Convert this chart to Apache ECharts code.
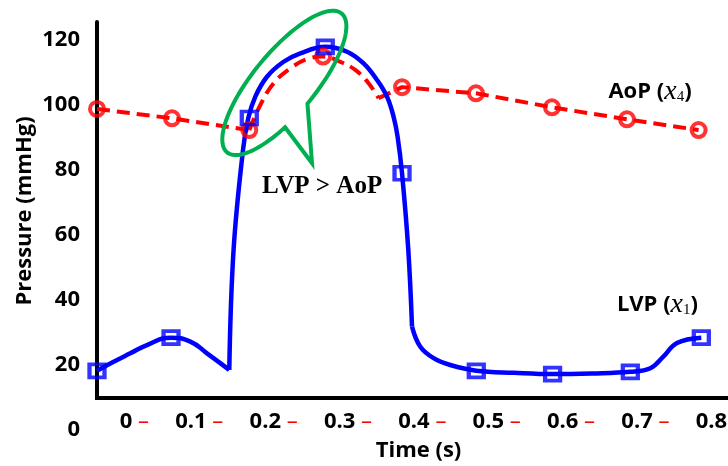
<!DOCTYPE html>
<html>
<head>
<meta charset="utf-8">
<script src="https://cdn.jsdelivr.net/npm/echarts@6/dist/echarts.min.js"></script>
<style>
  html, body { margin: 0; padding: 0; background: #fff; }
  #chart { width: 728px; height: 466px; }
</style>
</head>
<body>
<div id="chart"></div>
<script>
// Tick labels
const xTickLabels = [0, 0.1, 0.2, 0.3, 0.4, 0.5, 0.6, 0.7, 0.8];
const yTickLabels = [0, 20, 40, 60, 80, 100, 120];

// Sampled states (markers): time in s, pressure in mmHg
const lvpTime     = [0, 0.098, 0.2016, 0.3022, 0.4038, 0.5021, 0.6031, 0.706, 0.8];
const lvpPressure = [18.2, 28.4, 96.0, 117.9, 79.0, 18.2, 17.2, 17.9, 28.4];
const aopTime     = [0, 0.0993, 0.2016, 0.2992, 0.4038, 0.5017, 0.6023, 0.7016, 0.7964];
const aopPressure = [98.8, 95.9, 92.3, 114.9, 105.5, 103.6, 99.3, 95.6, 92.3];

// Continuous LVP waveform, split at its sharp corners
const lvpFillTrace = [[0, 18.25], [0.022, 21.0], [0.0441, 23.6], [0.0662, 26.15], [0.098, 28.4],
  [0.1235, 27.2], [0.1456, 23.6], [0.1751, 18.5]];
const lvpSystoleTrace = [[0.1751, 18.5], [0.1808, 55.4], [0.1933, 86.2], [0.2003, 96.0], [0.2096, 102.6],
  [0.2250, 108.7], [0.2470, 113.3], [0.2691, 115.9], [0.3022, 117.9], [0.3310, 116.4], [0.3529, 112.8],
  [0.3707, 107.7], [0.3839, 102.6], [0.3926, 96.4], [0.3979, 90.3], [0.4038, 79.0], [0.4121, 55.4], [0.4170, 31.8]];
const lvpRelaxTrace = [[0.4170, 31.8], [0.428, 25.6], [0.4456, 22.1], [0.4677, 20.0], [0.5021, 18.25],
  [0.552, 17.6], [0.6031, 17.2], [0.655, 17.4], [0.706, 17.9], [0.7325, 19.0], [0.7497, 22.6], [0.7678, 26.8], [0.8, 28.4]];

// Continuous AoP waveform, split at its corners
const aopEarlyTrace = [[0, 98.8], [0.0993, 95.9], [0.2016, 92.3]];
const aopEjectTrace = [[0.2016, 92.3], [0.2162, 100.0], [0.2338, 106.7], [0.2559, 111.3], [0.278, 114.1],
  [0.2992, 114.9], [0.3221, 113.3], [0.3419, 110.8], [0.3595, 106.7], [0.3728, 102.1]];
const aopLateTrace = [[0.3728, 102.1], [0.4038, 105.5], [0.5017, 103.6], [0.6023, 99.3], [0.7016, 95.6], [0.7964, 92.3]];

const SANS = '"Open Sans", "DejaVu Sans", sans-serif';
const SERIF = '"Liberation Serif", "Times New Roman", serif';
const BLUE = '#0000ff', RED = '#ff0000', GREEN = '#00b050';

const T_MAX = 0.8618;      // data time axis extent
const P_MAX = 125.54;      // pressure axis extent
const FLOOR = 9.85;        // pressure level where the time axis crosses

const chart = echarts.init(document.getElementById('chart'), null, { renderer: 'canvas' });

const zip = (xs, ys) => xs.map((x, i) => [x, ys[i]]);

function traceSeries(data, color, dashed, smooth, z) {
  return {
    type: 'line',
    xAxisIndex: 0,
    yAxisIndex: 0,
    data: data,
    smooth: smooth,
    clip: false,
    showSymbol: false,
    symbol: 'none',
    silent: true,
    lineStyle: { color: color, width: dashed ? 4 : 4.5, type: dashed ? [13, 7] : 'solid', cap: 'butt' },
    z: z
  };
}

const hidden = { axisTick: { show: false }, axisLabel: { show: false }, splitLine: { show: false } };

const option = {
  animation: false,
  backgroundColor: '#fff',
  grid: [
    // plotting area, framed by its own axis lines
    { left: 97, right: -20, top: 22, bottom: 68, containLabel: false, outerBoundsMode: 'none' },
    // label area: pressure from 0, time labels along the bottom
    { left: 97, right: -20, top: 22, bottom: 36, containLabel: false, outerBoundsMode: 'none' }
  ],
  xAxis: [
    Object.assign({
      type: 'value', gridIndex: 0, min: 0, max: T_MAX, position: 'bottom',
      axisLine: { show: true, onZero: false, lineStyle: { color: '#000', width: 4 } }
    }, hidden),
    {
      type: 'value', gridIndex: 1, min: -0.06994, max: 0.80565, position: 'bottom',
      axisLine: { show: false }, axisTick: { show: false }, splitLine: { show: false },
      axisLabel: {
        customValues: xTickLabels,
        align: 'right',
        margin: -19,
        formatter: v => `{n|${v} }{d|–}`,
        rich: {
          n: { fontFamily: SANS, fontWeight: 'bold', fontSize: 22, color: '#000' },
          d: { fontFamily: SANS, fontSize: 22, color: RED }
        }
      },
      name: 'Time (s)', nameLocation: 'middle', nameGap: 10,
      nameTextStyle: { fontFamily: SANS, fontWeight: 'bold', fontSize: 22, color: '#000', padding: [0, 8, 0, 0] }
    }
  ],
  yAxis: [
    Object.assign({
      type: 'value', gridIndex: 0, min: FLOOR, max: P_MAX, position: 'left',
      axisLine: { show: true, onZero: false, lineStyle: { color: '#000', width: 4 } }
    }, hidden),
    {
      type: 'value', gridIndex: 1, min: 0, max: P_MAX, position: 'left',
      axisLine: { show: false }, axisTick: { show: false }, splitLine: { show: false },
      axisLabel: { customValues: yTickLabels, margin: 17, fontFamily: SANS, fontWeight: 'bold', fontSize: 22, color: '#000' }
    }
  ],
  series: [
    traceSeries(aopEarlyTrace, RED, true, false, 2),
    traceSeries(aopEjectTrace, RED, true, 0.4, 2),
    traceSeries(aopLateTrace, RED, true, false, 2),
    traceSeries(lvpFillTrace, BLUE, false, true, 3),
    traceSeries(lvpSystoleTrace, BLUE, false, 0.4, 3),
    traceSeries(lvpRelaxTrace, BLUE, false, 0.4, 3),
    {
      type: 'scatter', xAxisIndex: 0, yAxisIndex: 0, silent: true, z: 4, clip: false,
      data: zip(aopTime, aopPressure),
      symbol: 'circle', symbolSize: 14,
      itemStyle: { color: 'rgba(0,0,0,0)', borderColor: RED, borderWidth: 4 }
    },
    {
      type: 'scatter', xAxisIndex: 0, yAxisIndex: 0, silent: true, z: 5, clip: false,
      data: zip(lvpTime, lvpPressure),
      symbol: 'rect', symbolSize: [15, 13],
      itemStyle: { color: 'rgba(0,0,0,0)', borderColor: BLUE, borderWidth: 4 }
    }
  ]
};

chart.setOption(option);

// Annotations anchored in data space
const px = (t, p) => chart.convertToPixel({ xAxisIndex: 0, yAxisIndex: 0 }, [t, p]);

// Speech-bubble outline around the ejection crossover: tilted ellipse with a tail
function calloutPoints() {
  const a = 90, b = 31, rot = -50.5 * Math.PI / 180;
  const ux = Math.cos(rot), uy = Math.sin(rot);
  const vx = -uy, vy = ux;
  const pts = [];
  for (let deg = 112; deg <= 450.8; deg += 3) {
    const f = deg * Math.PI / 180;
    const c = a * Math.cos(f), s = b * Math.sin(f);
    pts.push([c * ux + s * vx, c * uy + s * vy]);
  }
  const fEnd = 450.8 * Math.PI / 180;
  pts.push([a * Math.cos(fEnd) * ux + b * Math.sin(fEnd) * vx, a * Math.cos(fEnd) * uy + b * Math.sin(fEnd) * vy]);
  pts.push([27.7, 80.3]);
  return pts;
}

const axisCorner = px(0, FLOOR);
const bubbleCenter = px(0.248, 106.8);
const crossLabel = px(0.2979, 74.9);
const aopLabel = px(0.7321, 104.1);
const lvpLabel = px(0.7419, 38.46);
const yTitlePos = [25, 211];
const viewWidth = chart.getWidth();

// time axis line drawn as abutting pieces from the corner to the right edge
const axisPieces = [];
for (let x = axisCorner[0] - 2; x < viewWidth; x += 90) {
  axisPieces.push({
    type: 'rect', z: 10, silent: true,
    shape: { x: x, y: axisCorner[1] - 2, width: Math.min(91, viewWidth - x), height: 4 },
    style: { fill: '#000' }
  });
}

const nameRich = {
  b: { fontFamily: SANS, fontWeight: 'bold', fontSize: 22, fill: '#000', color: '#000' },
  i: { fontFamily: SERIF, fontStyle: 'italic', fontSize: 28, fill: '#000', color: '#000' },
  s: { fontFamily: SERIF, fontSize: 15, fill: '#000', color: '#000', padding: [10, 0, 0, 0] }
};

chart.setOption({
  graphic: axisPieces.concat([
    {
      type: 'text', x: yTitlePos[0], y: yTitlePos[1], rotation: Math.PI / 2, silent: true,
      style: { text: 'Pressure (mmHg)', font: 'bold 22px "Open Sans"', fill: '#000', align: 'center', verticalAlign: 'middle' }
    },
    {
      type: 'polygon', x: bubbleCenter[0], y: bubbleCenter[1], z: 100, silent: true,
      shape: { points: calloutPoints() },
      style: { fill: 'none', stroke: GREEN, lineWidth: 4, lineJoin: 'miter' }
    },
    {
      type: 'text', x: crossLabel[0], y: crossLabel[1], z: 100, silent: true,
      style: { text: 'LVP > AoP', font: 'bold 25px "Liberation Serif"', fill: '#000', align: 'center', verticalAlign: 'middle' }
    },
    {
      type: 'text', x: aopLabel[0], y: aopLabel[1], z: 100, silent: true,
      style: { text: '{b|AoP (}{i|x}{s|4}{b|)}', rich: nameRich, align: 'center', verticalAlign: 'middle' }
    },
    {
      type: 'text', x: lvpLabel[0], y: lvpLabel[1], z: 100, silent: true,
      style: { text: '{b|LVP (}{i|x}{s|1}{b|)}', rich: nameRich, align: 'center', verticalAlign: 'middle' }
    }
  ])
});
</script>
</body>
</html>
